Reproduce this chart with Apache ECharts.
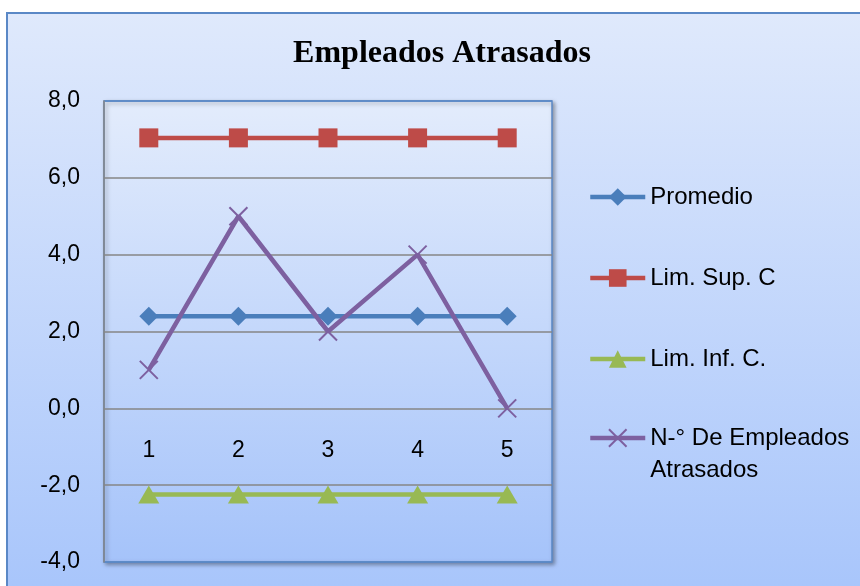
<!DOCTYPE html>
<html>
<head>
<meta charset="utf-8">
<script src="https://cdn.jsdelivr.net/npm/echarts@6/dist/echarts.min.js"></script>
<style>
html,body{margin:0;padding:0;background:#ffffff;width:860px;height:586px;overflow:hidden;}
#frame{position:absolute;left:6px;top:12px;width:900px;height:600px;border:2px solid #5a88c6;
background:linear-gradient(to bottom,#dfe9fc 0%,#a6c4fb 100%);}
#chart{position:absolute;left:0;top:0;width:860px;height:586px;}
</style>
</head>
<body>
<div id="frame"></div>
<div id="chart"></div>
<script>
const titleText = "Empleados Atrasados";
const categories = ["1", "2", "3", "4", "5"];
const promedio = [2.4, 2.4, 2.4, 2.4, 2.4];
const limSup = [7.04, 7.04, 7.04, 7.04, 7.04];
const limInf = [-2.24, -2.24, -2.24, -2.24, -2.24];
const empleados = [1, 5, 2, 4, 0];
const seriesNames = ["Promedio", "Lim. Sup. C", "Lim. Inf. C.", "N-° De Empleados Atrasados"];
const yTicks = { min: -4, max: 8, interval: 2 };

const FONT = "Liberation Sans";
const chart = echarts.init(document.getElementById('chart'), null, {renderer: 'canvas'});

const lineSeries = (name, data, color, symbol, size, extra) => Object.assign({
  name: name,
  type: 'line',
  data: data,
  symbol: symbol,
  symbolSize: size,
  showSymbol: true,
  animation: false,
  lineStyle: {color: color, width: 4.5},
  itemStyle: {color: color},
  emphasis: {disabled: true}
}, extra || {});

const legendCommon = {
  orient: 'vertical',
  left: 588,
  padding: 0,
  itemWidth: 55,
  itemHeight: 22,
  lineStyle: {width: 4.5},
  selectedMode: false
};

const option = {
  animation: false,
  backgroundColor: 'transparent',
  title: {
    text: titleText,
    left: 437,
    top: 33,
    textAlign: 'center',
    textStyle: {fontFamily: 'Liberation Serif', fontWeight: 'bold', fontSize: 32, color: '#000'}
  },
  legend: [
    Object.assign({}, legendCommon, {
      data: seriesNames.slice(0, 3),
      top: 182,
      itemGap: 51,
      textStyle: {fontFamily: FONT, fontSize: 24, color: '#000', lineHeight: 30}
    }),
    Object.assign({}, legendCommon, {
      data: [seriesNames[3]],
      top: 390,
      formatter: function () { return "\nN-° De Empleados\nAtrasados"; },
      textStyle: {fontFamily: FONT, fontSize: 24, color: '#000', lineHeight: 32}
    })
  ],
  grid: {
    left: 104, right: 308, top: 101, bottom: 24,
    outerBoundsMode: 'none',
    containLabel: false,
    show: true,
    backgroundColor: new echarts.graphic.LinearGradient(0, 0, 0, 1, [
      {offset: 0, color: '#e3ecfc'}, {offset: 1, color: '#a5c3fa'}
    ]),
    borderColor: '#5a88c6',
    borderWidth: 1.5,
    shadowColor: 'rgba(0,0,0,0.35)',
    shadowBlur: 4,
    shadowOffsetX: 2,
    shadowOffsetY: 2
  },
  xAxis: {
    type: 'category',
    data: categories,
    boundaryGap: true,
    position: 'bottom',
    axisLine: {show: false, onZero: false},
    axisTick: {show: false},
    axisLabel: {margin: -123, fontFamily: FONT, fontSize: 23, color: '#000'},
    splitLine: {show: false}
  },
  yAxis: {
    type: 'value',
    min: yTicks.min,
    max: yTicks.max,
    interval: yTicks.interval,
    axisLine: {show: true, lineStyle: {color: '#868686', width: 1.5}},
    axisTick: {show: false},
    axisLabel: {
      margin: 24, fontFamily: FONT, fontSize: 23, color: '#000',
      formatter: v => v.toFixed(1).replace('.', ',')
    },
    splitLine: {show: true, lineStyle: {
      color: ['#5a88c6', '#868686', '#868686', '#868686', '#868686', '#868686', '#5a88c6'],
      width: 1.5
    }}
  },
  series: [
    lineSeries(seriesNames[0], promedio, '#4a7ebb', 'diamond', 19),
    lineSeries(seriesNames[1], limSup, '#be4b48', 'rect', 19),
    lineSeries(seriesNames[2], limInf, '#98b954', 'triangle', [21, 18]),
    lineSeries(seriesNames[3], empleados, '#7d60a0', 'path://M0,0L10,10M10,0L0,10', 18, {
      itemStyle: {color: 'rgba(0,0,0,0)', borderColor: '#7d60a0', borderWidth: 2}
    })
  ]
};
chart.setOption(option);
</script>
</body>
</html>
